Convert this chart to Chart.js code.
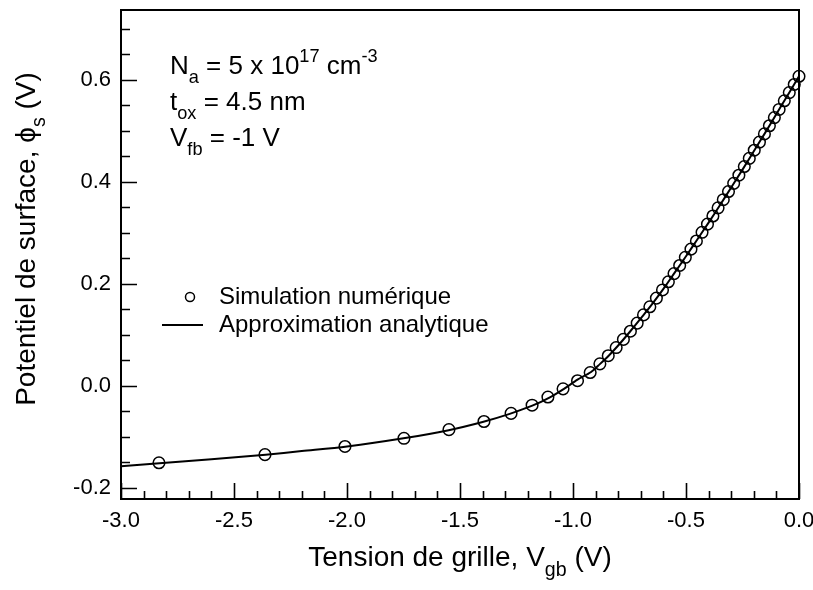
<!DOCTYPE html>
<html>
<head>
<meta charset="utf-8">
<script src="https://cdn.jsdelivr.net/npm/chart.js@4.4.0/dist/chart.umd.min.js"></script>
<style>
    body { margin: 0; background: #fff; }
</style>
</head>
<body>
<canvas id="phiChart" width="813" height="590"></canvas>
<script>
// simulation points (circles)
const vgbSim = [-2.832, -2.363, -2.009, -1.748, -1.549, -1.394, -1.274, -1.181, -1.111, -1.044,
    -0.980, -0.924, -0.881, -0.844, -0.809, -0.777, -0.746, -0.716, -0.688, -0.660,
    -0.631, -0.604, -0.578, -0.553, -0.528, -0.503, -0.478, -0.454, -0.429, -0.405,
    -0.381, -0.358, -0.335, -0.312, -0.289, -0.266, -0.242, -0.220, -0.198, -0.175,
    -0.153, -0.131, -0.109, -0.088, -0.065, -0.043, -0.021, 0.000]
const phiSim = [-0.151, -0.135, -0.119, -0.103, -0.086, -0.070, -0.054, -0.038, -0.022, -0.006,
    0.010, 0.026, 0.043, 0.059, 0.075, 0.091, 0.107, 0.123, 0.139, 0.155,
    0.172, 0.188, 0.204, 0.220, 0.236, 0.252, 0.268, 0.284, 0.301, 0.317,
    0.333, 0.349, 0.365, 0.381, 0.397, 0.413, 0.430, 0.446, 0.462, 0.478,
    0.494, 0.510, 0.526, 0.542, 0.559, 0.575, 0.591, 0.607]

// analytic approximation (solid line)
const vgbFit = [-3.0, -2.83, -2.6, -2.36, -2.2, -2.0, -1.75, -1.55, -1.4, -1.28, -1.18, -1.1, -1.04,
    -0.98, -0.92, -0.88, -0.84, -0.8, -0.75, -0.7, -0.65, -0.6, -0.55, -0.5, -0.45, -0.4,
    -0.35, -0.3, -0.25, -0.2, -0.15, -0.1, -0.05, 0.0]
const phiFit = [-0.158, -0.152, -0.144, -0.135, -0.128, -0.119, -0.103, -0.087, -0.071, -0.055, -0.039, -0.022, -0.006,
    0.012, 0.027, 0.043, 0.060, 0.079, 0.105, 0.132, 0.160, 0.190, 0.222, 0.254, 0.287, 0.320,
    0.354, 0.389, 0.424, 0.460, 0.496, 0.533, 0.570, 0.607]

const xTickVals = [-3.0, -2.5, -2.0, -1.5, -1.0, -0.5, 0.0]
const yTickVals = [-0.2, 0.0, 0.2, 0.4, 0.6]

const FONT = '"Liberation Sans", Arial, Helvetica, sans-serif'

function toPoints(xs, ys) {
    return xs.map((v, i) => ({ x: v, y: ys[i] }))
}

// draws text with sub/superscripts, parts = [[text, 'n'|'sub'|'sup'], ...]
function drawRich(ctx, parts, x, y, size) {
    let cx = x
    parts.forEach(p => {
        let s = size, dy = 0
        if (p[1] === 'sub') { s = size * 0.7; dy = size * 0.34 }
        if (p[1] === 'sup') { s = size * 0.7; dy = -size * 0.46 }
        ctx.font = s + 'px ' + FONT
        ctx.fillText(p[0], cx, y + dy)
        cx += ctx.measureText(p[0]).width
    })
    return cx - x
}

function richWidth(ctx, parts, size) {
    let w = 0
    parts.forEach(p => {
        let s = p[1] === 'n' ? size : size * 0.7
        ctx.font = s + 'px ' + FONT
        w += ctx.measureText(p[0]).width
    })
    return w
}

// no extra room for overhanging tick labels, the plot box is fixed
function fixBox(s) {
    s.paddingTop = 0
    s.paddingBottom = 0
    s.paddingLeft = 0
    s.paddingRight = 0
}

const frameTicks = {
    id: 'frameTicks',
    afterDraw(chart) {
        const { ctx, chartArea: a, scales: { x, y } } = chart
        ctx.save()
        ctx.strokeStyle = '#000'
        ctx.fillStyle = '#000'

        // inward ticks
        ctx.lineWidth = 1.6
        ctx.beginPath()
        for (let i = 0; i <= 30; i++) {
            const px = Math.round(x.getPixelForValue(-3 + i * 0.1)) + 0.5
            const len = i % 5 === 0 ? 16 : 8
            ctx.moveTo(px, a.bottom)
            ctx.lineTo(px, a.bottom - len)
        }
        for (let i = -4; i <= 14; i++) {
            const py = Math.round(y.getPixelForValue(i * 0.05)) + 0.5
            const len = i % 4 === 0 ? 16 : 9
            ctx.moveTo(a.left, py)
            ctx.lineTo(a.left + len, py)
        }
        ctx.stroke()

        // frame
        ctx.lineWidth = 2
        ctx.strokeRect(a.left, a.top, a.right - a.left, a.bottom - a.top)

        // axis titles
        ctx.textBaseline = 'alphabetic'
        ctx.textAlign = 'left'
        const xt = [['Tension de grille, V', 'n'], ['gb', 'sub'], [' (V)', 'n']]
        const xw = richWidth(ctx, xt, 28)
        drawRich(ctx, xt, (a.left + a.right) / 2 - xw / 2, 566, 28)

        const yt = [['Potentiel de surface, \u03d5', 'n'], ['s', 'sub'], [' (V)', 'n']]
        const yw = richWidth(ctx, yt, 28)
        ctx.save()
        ctx.translate(35, 239)
        ctx.rotate(-Math.PI / 2)
        drawRich(ctx, yt, -yw / 2, 0, 28)
        ctx.restore()

        // parameters
        drawRich(ctx, [['N', 'n'], ['a', 'sub'], [' = 5 x 10', 'n'], ['17', 'sup'], [' cm', 'n'], ['-3', 'sup']], 170, 74, 26)
        drawRich(ctx, [['t', 'n'], ['ox', 'sub'], [' = 4.5 nm', 'n']], 170, 110, 26)
        drawRich(ctx, [['V', 'n'], ['fb', 'sub'], [' = -1 V', 'n']], 170, 146, 26)

        // legend
        const ds = chart.data.datasets
        ctx.lineWidth = 1.5
        ctx.beginPath()
        ctx.arc(190, 297, 4.5, 0, Math.PI * 2)
        ctx.stroke()
        ctx.lineWidth = 2
        ctx.beginPath()
        ctx.moveTo(162, 325)
        ctx.lineTo(203, 325)
        ctx.stroke()
        ctx.font = '24px ' + FONT
        ctx.fillText(ds[0].label, 219, 304)
        ctx.fillText(ds[1].label, 219, 332)

        ctx.restore()
    }
}

const ctx = document.getElementById('phiChart')
const phiChart = new Chart(ctx, {
    type: 'scatter',
    data: {
        datasets: [{
            label: 'Simulation numérique',
            data: toPoints(vgbSim, phiSim),
            showLine: false,
            pointStyle: 'circle',
            pointRadius: 5.8,
            borderColor: '#000',
            backgroundColor: 'rgba(0,0,0,0)',
            borderWidth: 1.5,
            clip: false,
            order: 1
        }, {
            label: 'Approximation analytique',
            data: toPoints(vgbFit, phiFit),
            showLine: true,
            pointRadius: 0,
            borderColor: '#000',
            borderWidth: 2,
            tension: 0.3,
            clip: false,
            order: 2
        }]
    },
    options: {
        responsive: false,
        animation: false,
        devicePixelRatio: 1,
        layout: { padding: { top: 10, right: 14, left: 0, bottom: 0 } },
        plugins: {
            legend: { display: false },
            tooltip: { enabled: false }
        },
        scales: {
            x: {
                type: 'linear',
                min: -3,
                max: 0,
                afterFit(s) { s.height = 91; fixBox(s) },
                afterBuildTicks(s) { s.ticks = xTickVals.map(v => ({ value: v })) },
                grid: { display: false, drawTicks: false },
                border: { display: false },
                ticks: {
                    color: '#000',
                    font: { family: FONT, size: 22 },
                    padding: 9,
                    maxRotation: 0,
                    callback: v => v.toFixed(1)
                }
            },
            y: {
                type: 'linear',
                min: -0.222,
                max: 0.737,
                afterFit(s) { s.width = 121; fixBox(s) },
                afterBuildTicks(s) { s.ticks = yTickVals.map(v => ({ value: v })) },
                grid: { display: false, drawTicks: false },
                border: { display: false },
                ticks: {
                    color: '#000',
                    font: { family: FONT, size: 22 },
                    padding: 10,
                    callback: v => v.toFixed(1)
                }
            }
        }
    },
    plugins: [frameTicks]
})
</script>
</body>
</html>
